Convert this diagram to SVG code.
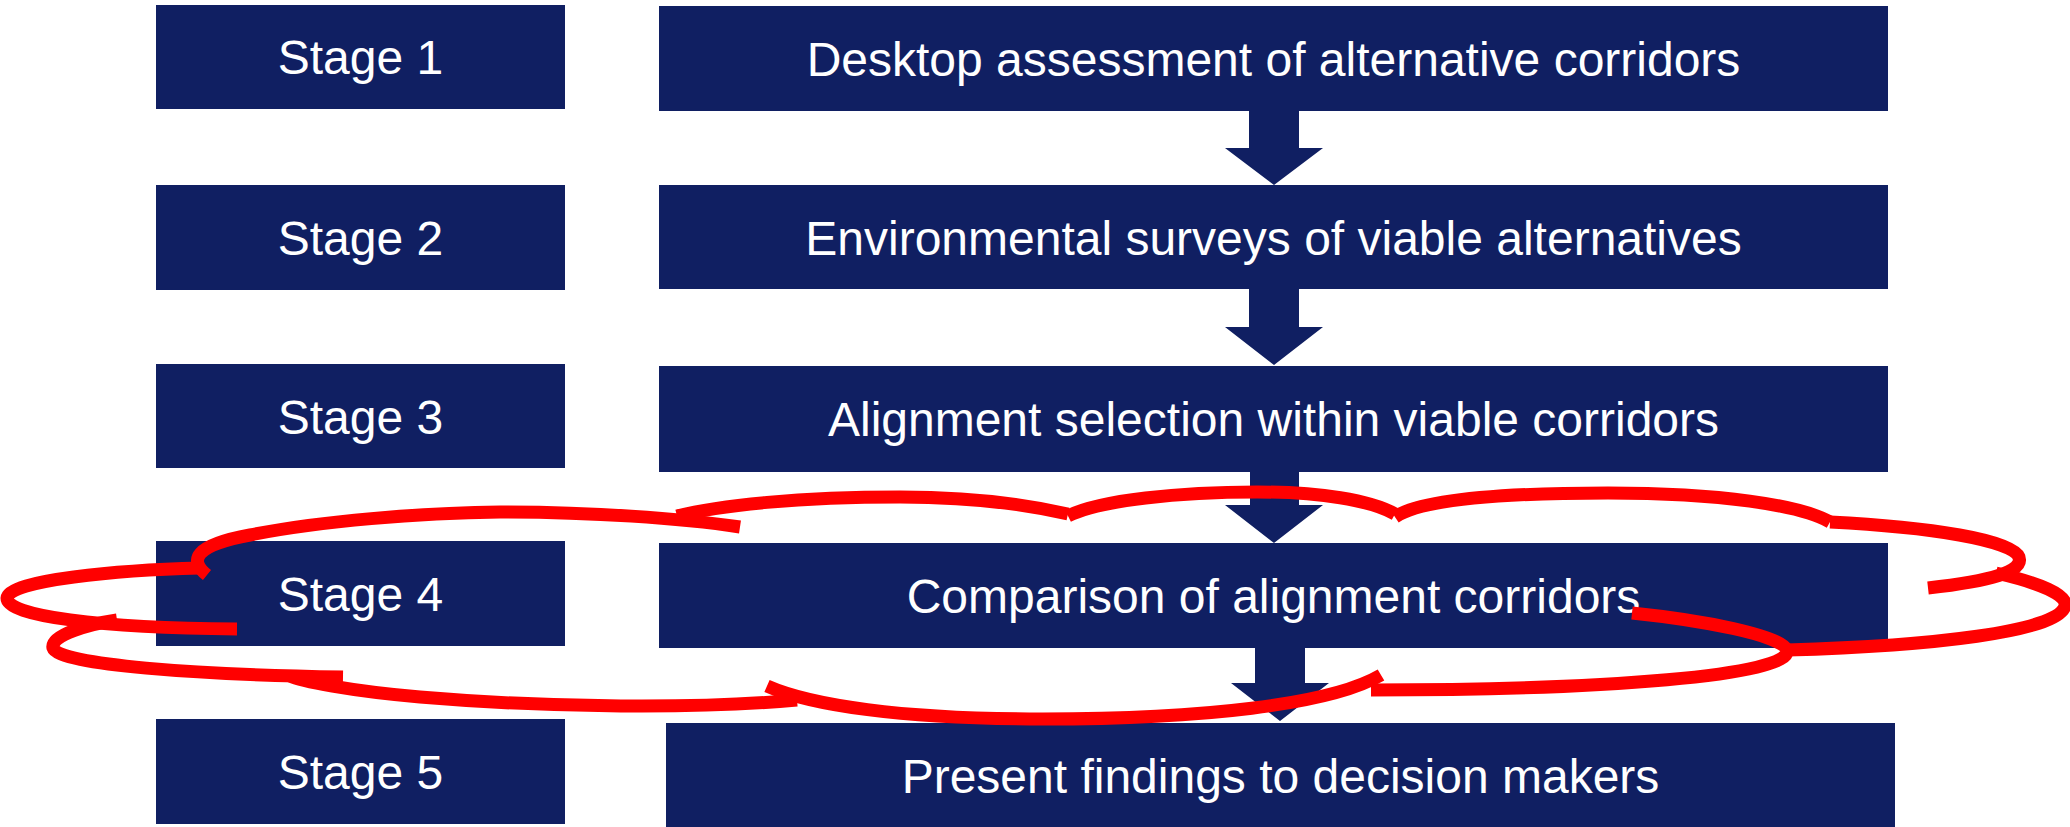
<svg xmlns="http://www.w3.org/2000/svg" width="2070" height="827" viewBox="0 0 2070 827">
<style>
.box{fill:#101F62}
.lbl{fill:#FFFFFF;font-family:"Liberation Sans",Arial,sans-serif;font-size:48px;text-anchor:middle}
.arr{fill:#101F62}
.cloud path{fill:none;stroke:#FF0000;stroke-width:13;stroke-linecap:butt}
</style>
<rect width="2070" height="827" fill="#FFFFFF"/>
<g id="stage1"><rect class="box" x="156" y="5" width="409" height="104"/><text class="lbl" x="360.5" y="74">Stage 1</text></g>
<g id="step1"><rect class="box" x="659" y="6" width="1229" height="105"/><text class="lbl" x="1273.5" y="76">Desktop assessment of alternative corridors</text></g>
<g id="stage2"><rect class="box" x="156" y="185" width="409" height="105"/><text class="lbl" x="360.5" y="255">Stage 2</text></g>
<g id="step2"><rect class="box" x="659" y="185" width="1229" height="104"/><text class="lbl" x="1273.5" y="255">Environmental surveys of viable alternatives</text></g>
<g id="stage3"><rect class="box" x="156" y="364" width="409" height="104"/><text class="lbl" x="360.5" y="434">Stage 3</text></g>
<g id="step3"><rect class="box" x="659" y="366" width="1229" height="106"/><text class="lbl" x="1273.5" y="436">Alignment selection within viable corridors</text></g>
<g id="stage4"><rect class="box" x="156" y="541" width="409" height="105"/><text class="lbl" x="360.5" y="611">Stage 4</text></g>
<g id="step4"><rect class="box" x="659" y="543" width="1229" height="105"/><text class="lbl" x="1273.5" y="613">Comparison of alignment corridors</text></g>
<g id="stage5"><rect class="box" x="156" y="719" width="409" height="105"/><text class="lbl" x="360.5" y="789">Stage 5</text></g>
<g id="step5"><rect class="box" x="666" y="723" width="1229" height="104"/><text class="lbl" x="1280.5" y="793">Present findings to decision makers</text></g>
<g id="connectors">
<polygon class="arr" points="1249,111 1299,111 1299,148 1323,148 1274,185 1225,148 1249,148"/>
<polygon class="arr" points="1249,289 1299,289 1299,327 1323,327 1274,365 1225,327 1249,327"/>
<polygon class="arr" points="1250,472 1299,472 1299,505 1323,505 1274,543 1225,505 1250,505"/>
<polygon class="arr" points="1255,648 1305,648 1305,683 1329,683 1280,721 1231,683 1255,683"/>
</g>
<g id="cloud" class="cloud">
<path d="M 207 575 C 188 560, 195 545, 250 535 C 320 521, 420 513, 500 512 C 590 512, 680 518, 740 527"/>
<path d="M 677 516 C 720 505, 800 497, 900 497 C 960 497, 1020 503, 1068 514"/>
<path d="M 1068 516 C 1100 500, 1180 492, 1257 492 C 1320 492, 1370 500, 1395 514"/>
<path d="M 1395 517 C 1420 500, 1500 493, 1608 493 C 1720 493, 1800 505, 1830 522"/>
<path d="M 1830 522 C 1930 527, 2012 540, 2019 557 C 2024 572, 1990 581, 1928 588"/>
<path d="M 1996 573 C 2040 583, 2068 595, 2065 606 C 2058 632, 1930 646, 1787 650"/>
<path d="M 1632 613 C 1700 620, 1782 635, 1787 650 C 1793 676, 1600 690, 1371 690"/>
<path d="M 1381 675 C 1330 705, 1200 719, 1043 719 C 900 719, 810 705, 767 686"/>
<path d="M 797 700 C 700 709, 550 708, 420 697 C 350 691, 300 681, 290 676"/>
<path d="M 343 677 C 200 675, 58 665, 53 648 C 50 635, 90 624, 117 620"/>
<path d="M 200 568 C 120 570, 8 580, 7 598 C 6 616, 100 628, 237 629"/>
</g>
</svg>
